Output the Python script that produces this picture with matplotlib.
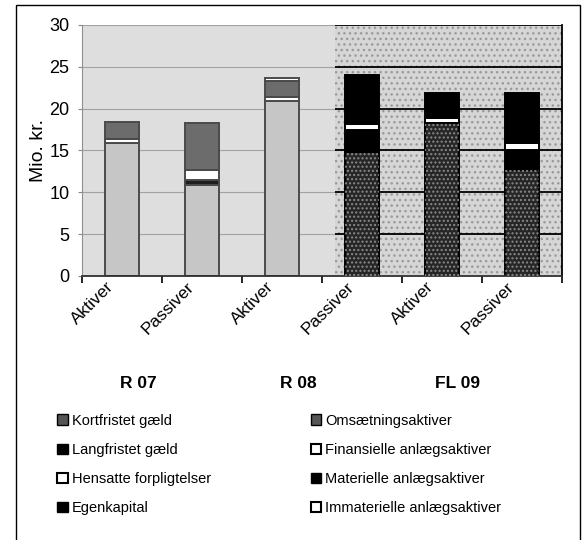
import numpy as np
import matplotlib
matplotlib.use('Agg')
import matplotlib.pyplot as plt
from matplotlib.patches import Patch, Rectangle

# --- data (Mio. kr.) ---
categories = ['Aktiver', 'Passiver', 'Aktiver', 'Passiver', 'Aktiver', 'Passiver']
groups = ['R 07', 'R 08', 'FL 09']

materielle = [15.85, 0, 20.95, 0, 18.3, 0]
finansielle = [0.55, 0, 0.4, 0, 0.55, 0]
omsaetning = [2.0, 0, 1.95, 0, 3.05, 0]
immaterielle = [0, 0, 0.3, 0, 0, 0]
egenkapital = [0, 10.9, 0, 14.85, 0, 12.65]
langfristet = [0, 0.6, 0, 2.55, 0, 2.35]
hensatte = [0, 1.2, 0, 0.7, 0, 0.85]
kortfristet = [0, 5.6, 0, 5.9, 0, 6.05]

yticks = [0, 5, 10, 15, 20, 25, 30]

plt.rcParams['font.family'] = ['Liberation Sans', 'DejaVu Sans']

series = [materielle, finansielle, omsaetning, immaterielle,
          egenkapital, langfristet, hensatte, kortfristet]
light_cols = ['#c6c6c6', 'white', '#6c6c6c', 'white', '#c6c6c6', '#1e1e1e', 'white', '#6c6c6c']
dark_cols = ['#262626', 'white', 'black', 'white', '#262626', 'black', 'white', 'black']
textured = [True, False, False, False, True, False, False, False]

split = 2.66  # where the scan turns from light to dark

fig = plt.figure(figsize=(5.86, 5.40), dpi=100)
ax = fig.add_axes([0.140, 0.489, 0.819, 0.465])

ax.axvspan(-0.5, split, color='#dedede', zorder=0, lw=0)
ax.axvspan(split, 5.5, facecolor='#d6d6d6', edgecolor='#9a9a9a', hatch='...', lw=0, zorder=0)

ax.hlines(yticks[1:], -0.5, split, color='#a8a0a0', lw=0.8, zorder=1)
ax.hlines(yticks[1:], split, 5.5, color='black', lw=1.3, zorder=1)

x = np.arange(len(categories))
bottom = np.zeros(len(categories))
for vals, lc, dc, tex in zip(series, light_cols, dark_cols, textured):
    vals = np.array(vals)
    for i in x:
        if vals[i] == 0:
            continue
        if i < 3:
            ax.bar(i, vals[i], 0.43, bottom=bottom[i], color=lc, edgecolor='#4a4a4a', lw=1.4, zorder=2)
        else:
            ax.bar(i, vals[i], 0.43, bottom=bottom[i], color=dc, edgecolor='black', lw=1.4, zorder=2)
            if tex:
                ax.bar(i, vals[i], 0.43, bottom=bottom[i], color='none', edgecolor='#8a8a8a',
                       hatch='....', lw=0, zorder=3)
    bottom += vals

ax.set_xlim(-0.5, 5.5)
ax.set_ylim(0, 30)
ax.set_yticks(yticks)
ax.tick_params(axis='y', labelsize=13, length=3, color='#888888', pad=6)
ax.set_xticks(x)
ax.set_xticklabels([])
ax.set_xticks(np.arange(-0.5, 6, 1), minor=True)
ax.tick_params(axis='x', which='major', length=0)
ax.tick_params(axis='x', which='minor', length=5, color='black', width=1.2)
ax.set_ylabel('Mio. kr.', fontsize=14, labelpad=2)
ax.spines['top'].set_visible(False)
ax.spines['left'].set_color('#909090')
ax.spines['right'].set_color('black')
ax.spines['right'].set_linewidth(1.3)
ax.spines['bottom'].set_color('#303030')
ax.spines['bottom'].set_linewidth(1.3)

for i, c in enumerate(categories):
    ax.text(i - 0.2, -0.4, c, rotation=45, ha='right', va='top', rotation_mode='anchor',
            fontsize=12.5)

for g, name in enumerate(groups):
    ax.text(2 * g + 0.5 - 0.3, -12.9, name, ha='center', va='center',
            fontsize=12.5, fontweight='bold')

# legend, two columns as in the original
col1 = [Patch(facecolor='#555555', edgecolor='black', label='Kortfristet gæld'),
        Patch(facecolor='black', edgecolor='black', label='Langfristet gæld'),
        Patch(facecolor='white', edgecolor='black', lw=1.5, label='Hensatte forpligtelser'),
        Patch(facecolor='black', edgecolor='black', label='Egenkapital')]
col2 = [Patch(facecolor='#555555', edgecolor='black', label='Omsætningsaktiver'),
        Patch(facecolor='white', edgecolor='black', lw=1.5, label='Finansielle anlægsaktiver'),
        Patch(facecolor='black', edgecolor='black', label='Materielle anlægsaktiver'),
        Patch(facecolor='white', edgecolor='black', lw=1.5, label='Immaterielle anlægsaktiver')]
for hs, xpos in [(col1, 0.088), (col2, 0.520)]:
    fig.legend(handles=hs, loc='upper left', bbox_to_anchor=(xpos, 0.245), frameon=False,
               fontsize=10.5, handlelength=0.7, handleheight=0.7, handletextpad=0.3,
               labelspacing=1.05, borderaxespad=0)

fig.patches.append(Rectangle((0.027, -0.01), 0.962, 1.0, transform=fig.transFigure,
                             fill=False, edgecolor='black', lw=1.0))

fig.savefig('out.png', dpi=100)
